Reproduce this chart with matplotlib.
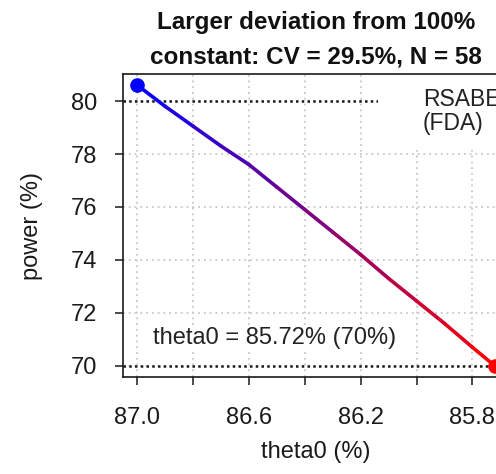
import numpy as np
import matplotlib
matplotlib.use("Agg")
import matplotlib.pyplot as plt
from matplotlib.collections import LineCollection
from matplotlib.patches import Rectangle

plt.rcParams['font.family'] = ['Liberation Sans', 'DejaVu Sans']

# power as a function of theta0 (CV = 29.5%, N = 58)
theta0 = [87.0, 86.9, 86.8, 86.7, 86.6, 86.5, 86.4, 86.3, 86.2, 86.1,
          86.0, 85.9, 85.8, 85.72]
power = [80.6, 79.8, 79.05, 78.3, 77.6, 76.75, 75.9, 75.05, 74.2, 73.3,
         72.45, 71.6, 70.7, 70.0]

x_ticks = [87.0, 86.8, 86.6, 86.4, 86.2, 86.0, 85.8]
x_ticklabels = ["87.0", "", "86.6", "", "86.2", "", "85.8"]
y_ticks = [70, 72, 74, 76, 78, 80]

title_lines = ["Larger deviation from 100%", "constant: CV = 29.5%, N = 58"]
target_power = 80
limit_power = 70
limit_label = "theta0 = 85.72% (70%)"
reg_label = "RSABE\n(FDA)"

W, H = 496, 474
fig = plt.figure(figsize=(W / 100, H / 100), dpi=100)
# plot region (right edge runs past the canvas)
ax_l, ax_r, ax_t, ax_b = 123, 509, 74, 377
ax = fig.add_axes([ax_l / W, (H - ax_b) / H, (ax_r - ax_l) / W, (ax_b - ax_t) / H])

x = np.array(theta0)
y = np.array(power)
ext = 0.04
xr = x.max() - x.min()
yr = y.max() - y.min()
ax.set_xlim(x.max() + ext * xr, x.min() - ext * xr)
ax.set_ylim(y.min() - ext * yr, y.max() + ext * yr)

# dotted light grid
grid_kw = dict(color="#c8c8c8", lw=1.3, linestyle=(0, (1, 2.2)), zorder=0.5)
for xt in x_ticks:
    ax.axvline(xt, **grid_kw)
for yt in y_ticks:
    ax.axhline(yt, **grid_kw)

# reference levels
ref_kw = dict(color="#1a1a1a", lw=1.8, linestyle=(0, (1, 1.3)), zorder=1)
ax.axhline(target_power, **ref_kw)
ax.axhline(limit_power, **ref_kw)

# white legend box in the top-right corner
ax.add_patch(Rectangle((0.661, 0.749), 0.4, 0.3, transform=ax.transAxes,
                       facecolor="white", edgecolor="none", zorder=2))
ax.text((423 - ax_l) / (ax_r - ax_l), (ax_b - 88) / (ax_b - ax_t), reg_label,
        transform=ax.transAxes, ha="left", va="top", fontsize=16.5,
        color="#222222", linespacing=1.05, zorder=3)

ax.text((153 - ax_l) / (ax_r - ax_l), (ax_b - 338) / (ax_b - ax_t), limit_label,
        transform=ax.transAxes, ha="left", va="center", fontsize=17,
        color="#222222", zorder=3,
        bbox=dict(facecolor="white", edgecolor="none", pad=0.5))

# colour ramp from blue to red along the curve
pts = np.column_stack([x, y])
segs = np.stack([pts[:-1], pts[1:]], axis=1)
frac = ((x[:-1] + x[1:]) / 2 - x[0]) / (x[-1] - x[0])
cols = [(f, 0.0, 1.0 - f) for f in frac]
lc = LineCollection(segs, colors=cols, linewidths=2.6, capstyle="round",
                    joinstyle="round", zorder=4)
ax.add_collection(lc)
ax.plot([x[0]], [y[0]], "o", color="blue", ms=9.5, zorder=5, clip_on=False)
ax.plot([x[-1]], [y[-1]], "o", color="red", ms=9.5, zorder=5, clip_on=False)

ax.set_xticks(x_ticks)
ax.set_xticklabels(x_ticklabels)
ax.set_yticks(y_ticks)
ax.tick_params(axis="x", length=5.8, width=1.1, pad=16, labelsize=17,
               colors="#1a1a1a", direction="out")
ax.tick_params(axis="y", length=5.8, width=1.1, pad=13, labelsize=17,
               colors="#1a1a1a", direction="out")
for s in ax.spines.values():
    s.set_linewidth(1.2)
    s.set_color("#1a1a1a")

ax.set_xlabel("theta0 (%)", fontsize=17, color="#1a1a1a")
ax.xaxis.set_label_coords((316 - ax_l) / (ax_r - ax_l), (ax_b - 452) / (ax_b - ax_t))
ax.xaxis.label.set_verticalalignment("center")
ax.set_ylabel("power (%)", fontsize=17, color="#1a1a1a")
ax.yaxis.set_label_coords((32 - ax_l) / (ax_r - ax_l), 0.5)
ax.yaxis.label.set_verticalalignment("center")

fig.text(316 / W, 1 - 23 / H, title_lines[0], ha="center", va="center",
         fontsize=17.5, fontweight="bold", color="#111111")
fig.text(316 / W, 1 - 57 / H, title_lines[1], ha="center", va="center",
         fontsize=17.5, fontweight="bold", color="#111111")

fig.savefig("out.png", dpi=100)
